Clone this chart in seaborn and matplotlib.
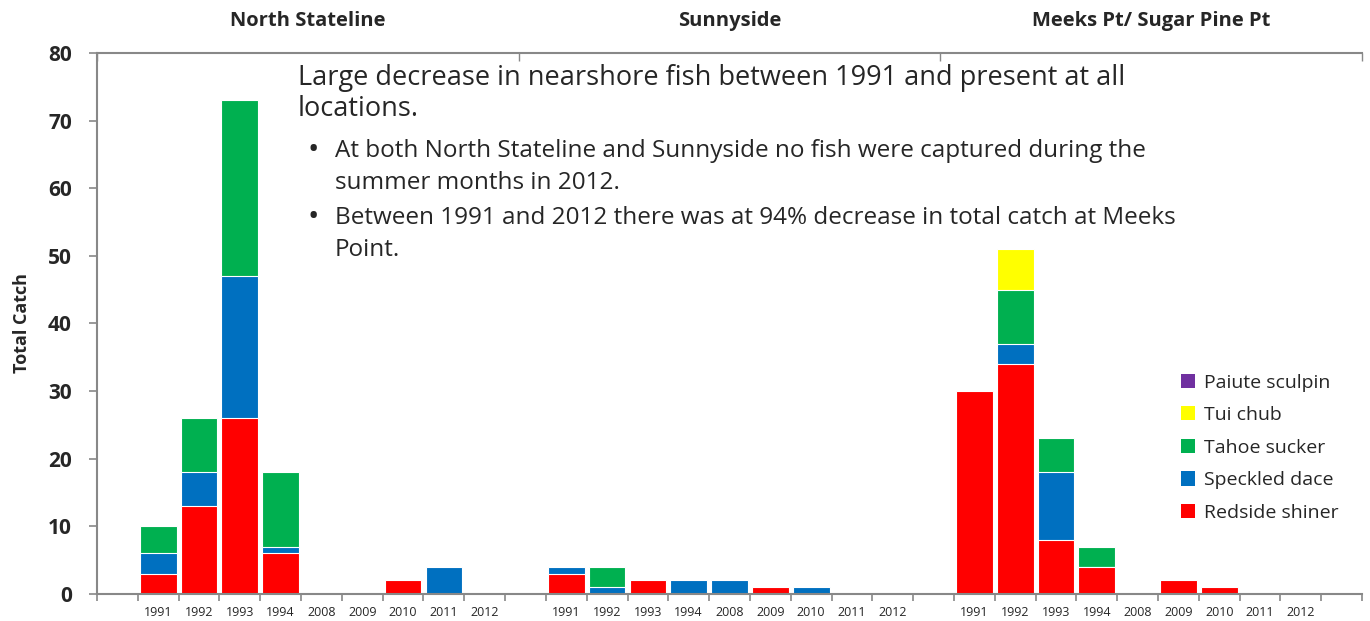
import numpy as np
import pandas as pd
import matplotlib
matplotlib.use("Agg")
import matplotlib.pyplot as plt
from matplotlib.patches import Patch
import seaborn as sns

sites = ["North Stateline", "Sunnyside", "Meeks Pt/ Sugar Pine Pt"]
years = ["1991", "1992", "1993", "1994", "2008", "2009", "2010", "2011", "2012"]
species = ["Redside shiner", "Speckled dace", "Tahoe sucker", "Tui chub", "Paiute sculpin"]
colors = {"Redside shiner": "#FF0000", "Speckled dace": "#0070C0",
          "Tahoe sucker": "#00B050", "Tui chub": "#FFFF00", "Paiute sculpin": "#7030A0"}

# catches per site, one value per year
redside = {
    "North Stateline": [3, 13, 26, 6, 0, 0, 2, 0, 0],
    "Sunnyside": [3, 0, 2, 0, 0, 1, 0, 0, 0],
    "Meeks Pt/ Sugar Pine Pt": [30, 34, 8, 4, 0, 2, 1, 0, 0],
}
dace = {
    "North Stateline": [3, 5, 21, 1, 0, 0, 0, 4, 0],
    "Sunnyside": [1, 1, 0, 2, 2, 0, 1, 0, 0],
    "Meeks Pt/ Sugar Pine Pt": [0, 3, 10, 0, 0, 0, 0, 0, 0],
}
sucker = {
    "North Stateline": [4, 8, 26, 11, 0, 0, 0, 0, 0],
    "Sunnyside": [0, 3, 0, 0, 0, 0, 0, 0, 0],
    "Meeks Pt/ Sugar Pine Pt": [0, 8, 5, 3, 0, 0, 0, 0, 0],
}
tui = {
    "North Stateline": [0] * 9,
    "Sunnyside": [0] * 9,
    "Meeks Pt/ Sugar Pine Pt": [0, 6, 0, 0, 0, 0, 0, 0, 0],
}
sculpin = {
    "North Stateline": [0] * 9,
    "Sunnyside": [0] * 9,
    "Meeks Pt/ Sugar Pine Pt": [0] * 9,
}

rows = []
for s in sites:
    for i, y in enumerate(years):
        rows.append({"slot": f"{s} {y}", "site": s, "year": y,
                     "Redside shiner": redside[s][i], "Speckled dace": dace[s][i],
                     "Tahoe sucker": sucker[s][i], "Tui chub": tui[s][i],
                     "Paiute sculpin": sculpin[s][i]})
df = pd.DataFrame(rows)

# cumulative heights so the layers can be drawn top-down
cum = df[species].cumsum(axis=1)
for sp in species:
    df["cum " + sp] = cum[sp].replace(0, np.nan)

# blank slot before each site and one at the end
order = []
for k, s in enumerate(sites):
    order.append(f"gap{k}")
    order += [f"{s} {y}" for y in years]
order.append("gap_end")

sns.set_style("white")
plt.rcParams["font.family"] = ["Open Sans", "DejaVu Sans"]

fig = plt.figure(figsize=(13.7, 6.21), dpi=100)
ax = fig.add_axes([0.0708, 0.0435, 0.9234, 0.8712])

for sp in reversed(species):
    sns.barplot(data=df, x="slot", y="cum " + sp, order=order, color=colors[sp],
                saturation=1, width=0.9, edgecolor="white", linewidth=0.8, ax=ax)

ax.set_xlim(-0.5, len(order) - 0.5)
ax.set_ylim(0, 80)
ax.set_yticks(range(0, 81, 10))
ax.set_yticklabels([str(v) for v in range(0, 81, 10)], fontsize=15, fontweight="bold")
ax.set_ylabel("Total Catch", fontsize=13, fontweight="bold", labelpad=12)
ax.set_xlabel("")

# year labels at slot centres, tick marks at slot edges
centers = [order.index(sl) for sl in df["slot"]]
ax.set_xticks(centers)
ax.set_xticklabels(df["year"], fontsize=9)
ax.tick_params(axis="x", length=0, pad=9)
ax.set_xticks(np.arange(-0.5, len(order), 1), minor=True)
ax.tick_params(axis="x", which="minor", length=5, width=1.2, color="#888888", direction="out")
ax.tick_params(axis="y", length=6, width=1.2, color="#888888", direction="out", left=True, pad=12)

for side in ["left", "bottom", "top"]:
    ax.spines[side].set_visible(True)
    ax.spines[side].set_color("#888888")
    ax.spines[side].set_linewidth(1.5)
ax.spines["right"].set_visible(False)

# top axis with site names
top = ax.twiny()
top.set_xlim(0, 3)
top.set_xticks([0, 1, 2, 3])
top.set_xticklabels([])
top.tick_params(axis="x", which="major", direction="in", length=6, width=1, color="#888888")
top.set_xticks([0.5, 1.5, 2.5], minor=True)
top.set_xticklabels(sites, minor=True, fontsize=14.5, fontweight="bold")
top.tick_params(axis="x", which="minor", length=0, pad=16)
for side in top.spines:
    top.spines[side].set_visible(False)

note_x = 298 / 1370
fig.text(note_x, 1 - 78 / 621, "Large decrease in nearshore fish between 1991 and present at all",
         fontsize=19.5, va="center", ha="left")
fig.text(note_x, 1 - 109 / 621, "locations.", fontsize=19.5, va="center", ha="left")
bullets = [
    (151, "At both North Stateline and Sunnyside no fish were captured during the"),
    (183, "summer months in 2012."),
    (218, "Between 1991 and 2012 there was at 94% decrease in total catch at Meeks"),
    (250, "Point."),
]
for i, (yy, txt) in enumerate(bullets):
    if i in (0, 2):
        fig.text(307 / 1370, 1 - yy / 621, "\u2022", fontsize=22, va="center", ha="left")
    fig.text(335 / 1370, 1 - yy / 621, txt, fontsize=17.5, va="center", ha="left")

handles = [Patch(facecolor=colors[sp], edgecolor="none") for sp in reversed(species)]
leg = ax.legend(handles, list(reversed(species)), loc="upper left",
                bbox_to_anchor=(1163 / 1370, 1 - 356 / 621), bbox_transform=fig.transFigure,
                frameon=False, fontsize=14, handlelength=0.75, handleheight=0.75,
                handletextpad=0.45, labelspacing=0.75)

fig.savefig("out.png", dpi=100)
